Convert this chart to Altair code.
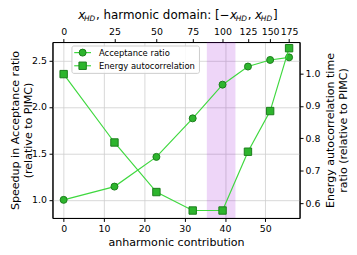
import altair as alt
import pandas as pd

# ---- data ----
anh = [0, 12.6, 23.0, 32.0, 39.4, 45.7, 51.2, 55.9]          # anharmonic contribution
hd_labels = ["0", "25", "50", "75", "100", "125", "150", "175"]  # x_HD (top axis)
acceptance = [1.0, 1.143, 1.463, 1.878, 2.241, 2.436, 2.507, 2.535]
energy = [0.998, 0.787, 0.634, 0.577, 0.577, 0.7585, 0.884, 1.078]
band = [35.5, 42.6]
x_ticks = [0, 10, 20, 30, 40, 50]
left_ticks = [1.0, 1.5, 2.0, 2.5]
right_ticks = [0.6, 0.7, 0.8, 0.9, 1.0]
legend_labels = ["Acceptance ratio", "Energy autocorrelation"]

W, H = 250, 178
XDOM = [-2.77, 58.5]
LDOM = [0.805, 2.70]
RDOM = [0.554, 1.097]
FONT = "DejaVu Sans"
LINE = "#3fd83f"
FILL = "#2db52d"
EDGE = "#1b7d1b"

df = pd.DataFrame({"anh": anh, "hd": hd_labels, "acc": acceptance, "en": energy})
one = pd.DataFrame({"a": [0]})

xs = alt.Scale(domain=XDOM, nice=False, zero=False)

# band
band_layer = alt.Chart(pd.DataFrame({"x0": [band[0]], "x1": [band[1]]})).mark_rect(
    color="#9400D3", opacity=0.16
).encode(x=alt.X("x0:Q", scale=xs, axis=None), x2="x1:Q")

# acceptance (left axis)
acc_base = alt.Chart(df).encode(
    x=alt.X("anh:Q", scale=xs, axis=alt.Axis(
        values=x_ticks, format="d", grid=True, title="anharmonic contribution",
        titleY=27.5, titleBaseline="alphabetic", labelPadding=2)),
    y=alt.Y("acc:Q", scale=alt.Scale(domain=LDOM, nice=False, zero=False), axis=alt.Axis(
        values=left_ticks, format=".1f", grid=True,
        title=["Speedup in Acceptance ratio", "(relative to PIMC)"],
        titleAngle=270, titleX=-37.5, titleY=89, titleBaseline="middle", titleAlign="center",
        labelPadding=2.5)),
)
acc_layer = alt.layer(
    acc_base.mark_line(color=LINE, strokeWidth=1.2),
    acc_base.mark_point(shape="circle", filled=True, size=50, color=FILL, stroke=EDGE,
                        strokeWidth=1, opacity=1),
)

# energy (right axis)
en_base = alt.Chart(df).encode(
    x=alt.X("anh:Q", scale=xs, axis=None),
    y=alt.Y("en:Q", scale=alt.Scale(domain=RDOM, nice=False, zero=False), axis=alt.Axis(
        orient="right", values=right_ticks, format=".1f", grid=False,
        title=["Energy autocorrelation time", "ratio (relative to PIMC)"],
        titleAngle=270, titleX=31, titleY=89, titleBaseline="middle", titleAlign="center",
        labelPadding=2)),
)
en_layer = alt.layer(
    en_base.mark_line(color=LINE, strokeWidth=1.2),
    en_base.mark_point(shape="square", filled=True, size=56, color=FILL, stroke=EDGE,
                       strokeWidth=1, opacity=1),
)

# top axis (x_HD)
parts = [f"abs(datum.value - {v}) < 0.01 ? '{l}'" for v, l in zip(anh, hd_labels)]
label_expr = " : ".join(parts) + " : ''"
top_layer = alt.Chart(df).mark_point(opacity=0).encode(
    x=alt.X("anh:Q", scale=xs, axis=alt.Axis(
        orient="top", values=anh, labelExpr=label_expr, grid=False, title=None,
        labelPadding=2))
)

# top title pieces (x_HD with subscripts)
def txt(s, x, y, size=12, italic=False):
    kw = dict(text=s, font=FONT, fontSize=size, align="left", baseline="alphabetic",
              color="black")
    if italic:
        kw["fontStyle"] = "italic"
    return alt.Chart(one).mark_text(**kw).encode(x=alt.value(x), y=alt.value(y))

X0 = 26
title_layers = [
    txt("x", X0, -23.5, italic=True),
    txt("HD", X0 + 5.8, -21.3, size=7.5, italic=True),
    txt(", harmonic domain: [\u2212", X0 + 18, -23.5),
    txt("x", X0 + 153.5, -23.5, italic=True),
    txt("HD", X0 + 159.3, -21.3, size=7.5, italic=True),
    txt(",", X0 + 171.5, -23.5),
    txt("x", X0 + 179, -23.5, italic=True),
    txt("HD", X0 + 184.8, -21.3, size=7.5, italic=True),
    txt("]", X0 + 197, -23.5),
]

# legend
leg_box = alt.Chart(one).mark_rect(
    fill="white", fillOpacity=0.85, stroke="#cccccc", strokeWidth=1, cornerRadius=2
).encode(x=alt.value(19.7), x2=alt.value(148.7), y=alt.value(4), y2=alt.value(31.7))
leg_layers = [leg_box]
for i, (lab, shp, sz) in enumerate(zip(legend_labels, ["circle", "square"], [50, 56])):
    yy = 10.7 + i * 13.3
    leg_layers.append(alt.Chart(one).mark_rule(color=LINE, strokeWidth=1.2).encode(
        x=alt.value(22), x2=alt.value(39), y=alt.value(yy)))
    leg_layers.append(alt.Chart(one).mark_point(
        shape=shp, filled=True, size=sz, color=FILL, stroke=EDGE, strokeWidth=1, opacity=1
    ).encode(x=alt.value(30.5), y=alt.value(yy)))
    leg_layers.append(alt.Chart(one).mark_text(
        text=lab, font=FONT, fontSize=8.5, align="left", baseline="middle", color="black"
    ).encode(x=alt.value(47), y=alt.value(yy)))

chart = alt.layer(
    band_layer, acc_layer, en_layer, top_layer, *title_layers, *leg_layers
).resolve_scale(x="independent", y="independent").properties(
    width=W, height=H,
    autosize=alt.AutoSizeParams(type="none"),
    padding={"left": 45, "top": 33, "right": 50, "bottom": 34},
).configure_axis(
    labelFont=FONT, titleFont=FONT, labelFontSize=9.5, titleFontSize=11.2,
    titleFontWeight="normal", labelColor="black", titleColor="black",
    domainColor="black", tickColor="black", tickSize=3.5, domainWidth=1, tickWidth=1,
    gridColor="#cfcfcf", gridWidth=0.8,
).configure_view(stroke="black", strokeWidth=1)

chart.save("out.html", embed_options={"renderer": "svg", "actions": False})
